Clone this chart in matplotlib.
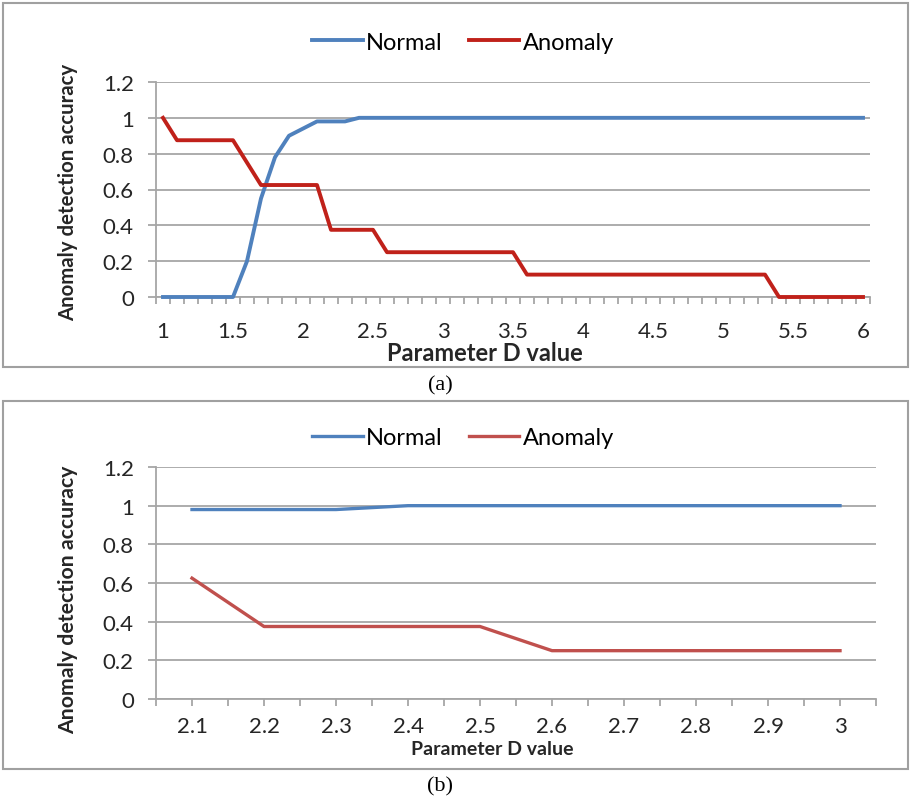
import matplotlib
matplotlib.use("Agg")
import matplotlib.pyplot as plt
from matplotlib.patches import Rectangle

plt.rcParams['font.family'] = ['Lato', 'DejaVu Sans']

# panel (a): D from 1.0 to 6.0 in steps of 0.1
d_a = ["%.1f" % (1 + 0.1 * i) for i in range(51)]
normal_a = [0, 0, 0, 0, 0, 0, 0.2, 0.55, 0.78, 0.9, 0.94, 0.98, 0.98, 0.98] + [1.0] * 37
anomaly_a = ([1.0, 0.875, 0.875, 0.875, 0.875, 0.875, 0.75]
             + [0.625] * 5 + [0.375] * 4 + [0.25] * 10 + [0.125] * 18 + [0.0] * 7)
labels_a = ["1", "1.5", "2", "2.5", "3", "3.5", "4", "4.5", "5", "5.5", "6"]

# panel (b): zoom on D from 2.1 to 3.0
d_b = ["2.1", "2.2", "2.3", "2.4", "2.5", "2.6", "2.7", "2.8", "2.9", "3"]
normal_b = [0.98, 0.98, 0.98, 1.0, 1.0, 1.0, 1.0, 1.0, 1.0, 1.0]
anomaly_b = [0.625, 0.375, 0.375, 0.375, 0.375, 0.25, 0.25, 0.25, 0.25, 0.25]

W, H = 911, 804
fig = plt.figure(figsize=(W / 100, H / 100), dpi=100)

grid_c = "#A6A6A6"
txt_c = "#262626"


def px(x0, y0, x1, y1):
    # pixel box -> figure fraction [left, bottom, width, height]
    return [x0 / W, 1 - y1 / H, (x1 - x0) / W, (y1 - y0) / H]


def style(ax, ylab_size):
    ax.set_ylim(0, 1.2)
    ax.set_yticks([0, 0.2, 0.4, 0.6, 0.8, 1, 1.2])
    ax.set_yticklabels(["0", "0.2", "0.4", "0.6", "0.8", "1", "1.2"])
    ax.yaxis.grid(True, color=grid_c, lw=1.3)
    ax.set_axisbelow(True)
    for s in ["top", "right"]:
        ax.spines[s].set_visible(False)
    for s in ["left", "bottom"]:
        ax.spines[s].set_color(grid_c)
        ax.spines[s].set_linewidth(1.3)
    ax.tick_params(axis="y", length=6, width=1.3, color=grid_c, pad=10,
                   labelsize=16, labelcolor=txt_c)
    ax.tick_params(axis="x", which="both", length=5, width=1.3, color=grid_c,
                   labelsize=16, labelcolor=txt_c)
    ax.set_ylabel("Anomaly detection accuracy", fontsize=ylab_size,
                  fontweight="bold", color=txt_c)
    ax.yaxis.label.set_va("center")


def add_legend(ax, ypix):
    fig.legend(*ax.get_legend_handles_labels(), loc="center", ncol=2,
               bbox_to_anchor=(463 / W, 1 - ypix / H), frameon=False, fontsize=17,
               handlelength=2.15, columnspacing=1.1, handletextpad=0.15)


# frames around the two charts
for y0, y1 in [(4, 368), (402, 770)]:
    fig.patches.append(Rectangle((3 / W, 1 - y1 / H), 905 / W, (y1 - y0) / H,
                                 transform=fig.transFigure, fill=False,
                                 edgecolor="#A0A0A0", lw=1.5))

# (a)
ax1 = fig.add_axes(px(156, 83, 870, 298))
x_a = range(len(d_a))
ax1.plot(x_a, normal_a, color="#4F81BD", lw=2.8, label="Normal", zorder=3, clip_on=False)
ax1.plot(x_a, anomaly_a, color="#C0211A", lw=2.8, label="Anomaly", zorder=3, clip_on=False)
ax1.set_xlim(-0.5, len(d_a) - 0.5)
ax1.set_xticks(range(0, len(d_a), 5))
ax1.set_xticklabels(labels_a)
ax1.set_xticks([i - 0.5 for i in range(len(d_a) + 1)], minor=True)
style(ax1, 14.7)
ax1.tick_params(axis="x", which="major", length=0, pad=17)
ax1.yaxis.set_label_coords((68 - 156) / 714, 0.49)
ax1.set_xlabel("Parameter D value", fontsize=17, fontweight="bold", color=txt_c)
ax1.xaxis.set_label_coords((485 - 156) / 714, -56 / 215)
ax1.xaxis.label.set_va("center")
add_legend(ax1, 43)

# (b)
ax2 = fig.add_axes(px(156, 468, 876, 700))
x_b = range(len(d_b))
ax2.plot(x_b, normal_b, color="#4F81BD", lw=2.4, label="Normal", zorder=3)
ax2.plot(x_b, anomaly_b, color="#C0504D", lw=2.4, label="Anomaly", zorder=3)
ax2.set_xlim(-0.5, len(d_b) - 0.5)
ax2.set_xticks(range(len(d_b)))
ax2.set_xticklabels(d_b)
ax2.set_xticks([i - 0.5 for i in range(len(d_b) + 1)], minor=True)
style(ax2, 15.3)
ax2.tick_params(axis="x", which="major", pad=7)
ax2.yaxis.set_label_coords((68 - 156) / 720, (700 - 600) / 232)
ax2.set_xlabel("Parameter D value", fontsize=14, fontweight="bold", color=txt_c)
ax2.xaxis.set_label_coords((492 - 156) / 720, -50 / 232)
ax2.xaxis.label.set_va("center")
add_legend(ax2, 439)

fig.text(440 / W, 1 - 386 / H, "(a)", ha="center", va="center",
         fontsize=16, family="Liberation Serif")
fig.text(440 / W, 1 - 787 / H, "(b)", ha="center", va="center",
         fontsize=16, family="Liberation Serif")

fig.savefig("out.png", dpi=100)
